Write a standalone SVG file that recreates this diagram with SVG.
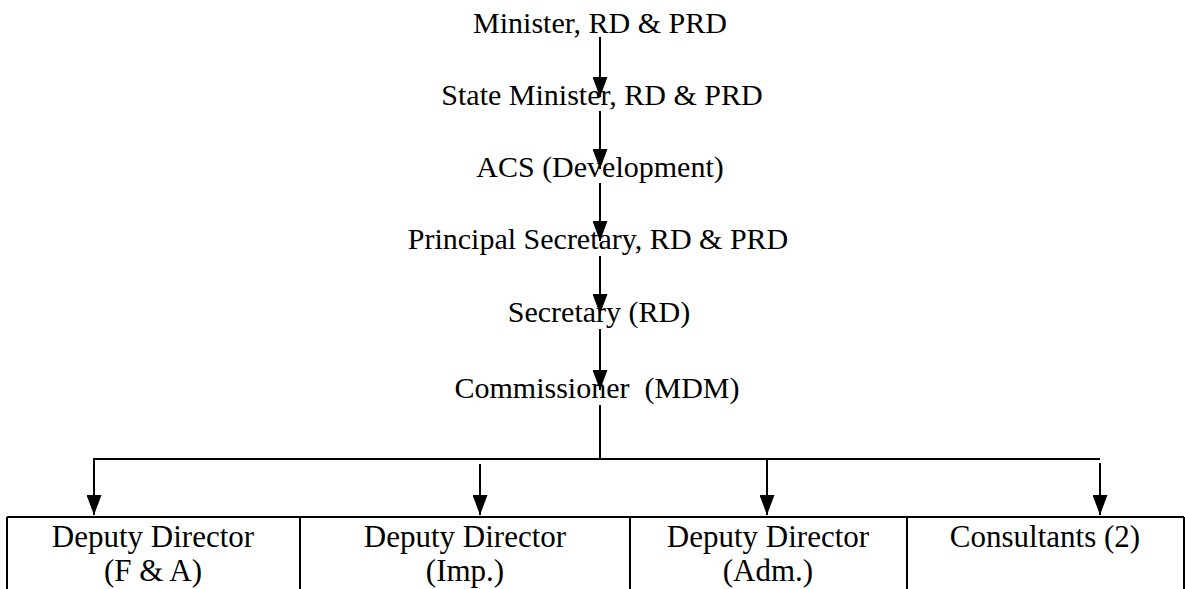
<svg xmlns="http://www.w3.org/2000/svg" width="1185" height="589" viewBox="0 0 1185 589">
<defs>
<marker id="ah" viewBox="0 0 20 15" refX="20" refY="7.5" markerWidth="20" markerHeight="15" markerUnits="userSpaceOnUse" orient="auto">
<path d="M0,0 L20,7.5 L0,15 Z" fill="#000"/>
</marker>
<style>
.t{font-family:"Liberation Serif","Times New Roman",serif;font-size:30px;fill:#000;text-anchor:middle}
.b{font-family:"Liberation Serif","Times New Roman",serif;font-size:31px;fill:#000;text-anchor:middle}
.ln{stroke:#000;stroke-width:2;fill:none}
.ar{stroke:#000;stroke-width:2;fill:none}
</style>
</defs>
<rect width="1185" height="589" fill="#fff"/>
<g id="n1"><text class="t" x="600" y="33">Minister, RD &amp; PRD</text></g>
<g id="n2"><text class="t" x="602" y="105">State Minister, RD &amp; PRD</text></g>
<g id="n3"><text class="t" x="600" y="177">ACS (Development)</text></g>
<g id="n4"><text class="t" x="598" y="249">Principal Secretary, RD &amp; PRD</text></g>
<g id="n5"><text class="t" x="599" y="322">Secretary (RD)</text></g>
<g id="n6"><text class="t" x="597" y="398" xml:space="preserve">Commissioner  (MDM)</text></g>
<g id="boxes">
<path class="ln" d="M7,517 H1184 M7,517 V590 M300,517 V590 M630,517 V590 M907,517 V590 M1184,517 V590"/>
</g>
<g id="b1"><text class="b" x="153" y="547">Deputy Director</text><text class="b" x="153" y="581">(F &amp; A)</text></g>
<g id="b2"><text class="b" x="465" y="547">Deputy Director</text><text class="b" x="465" y="581">(Imp.)</text></g>
<g id="b3"><text class="b" x="768" y="547">Deputy Director</text><text class="b" x="768" y="581">(Adm.)</text></g>
<g id="b4"><text class="b" x="1045" y="547">Consultants (2)</text></g>
<g id="connectors">
<line class="ar" x1="600" y1="37" x2="600" y2="97" marker-end="url(#ah)"/>
<line class="ar" x1="600" y1="111" x2="600" y2="169" marker-end="url(#ah)"/>
<line class="ar" x1="600" y1="183" x2="600" y2="241" marker-end="url(#ah)"/>
<line class="ar" x1="600" y1="256" x2="600" y2="314" marker-end="url(#ah)"/>
<line class="ar" x1="600" y1="329" x2="600" y2="390" marker-end="url(#ah)"/>
<line class="ln" x1="600" y1="405" x2="600" y2="459"/>
<path class="ln" d="M94,500 V459 H1100"/>
<line class="ar" x1="94" y1="470" x2="94" y2="515" marker-end="url(#ah)"/>
<line class="ar" x1="480" y1="464" x2="480" y2="515" marker-end="url(#ah)"/>
<line class="ar" x1="767" y1="459" x2="767" y2="515" marker-end="url(#ah)"/>
<line class="ar" x1="1100" y1="463" x2="1100" y2="515" marker-end="url(#ah)"/>
</g>
</svg>
